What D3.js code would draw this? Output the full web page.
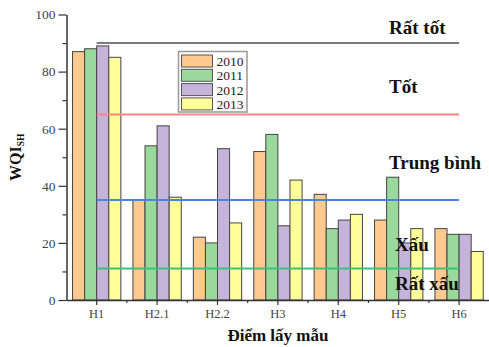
<!DOCTYPE html>
<html>
<head>
<meta charset="utf-8">
<script src="https://cdn.jsdelivr.net/npm/d3@7"></script>
<style>
  html, body { margin: 0; padding: 0; background: #fff; }
  svg { display: block; font-family: "Liberation Serif", "Times New Roman", serif; }
</style>
</head>
<body>
<svg id="chart" width="489" height="347"></svg>
<script>
// Sampling sites and yearly WQI_SH values
const sites = ["H1", "H2.1", "H2.2", "H3", "H4", "H5", "H6"];
const years = ["2010", "2011", "2012", "2013"];
const wqi2010 = [87, 35, 22, 52, 37, 28, 25];
const wqi2011 = [88, 54, 20, 58, 25, 43, 23];
const wqi2012 = [89, 61, 53, 26, 28, 20, 23];
const wqi2013 = [85, 36, 27, 42, 30, 25, 17];
const yearColors = ["#FFC98F", "#9AD89B", "#C5B3DA", "#FFFF9A"];

// Quality class thresholds and class names
const thresholds = [90, 65, 35, 11];
const thresholdColors = ["#7a7a7a", "#ff8585", "#4a82e0", "#3fbf7a"];
const classNames = ["Rất tốt", "Tốt", "Trung bình", "Xấu", "Rất xấu"];
const classLabelLevels = [93, 72.5, 46, 17, 3.5];

const yTicks = [0, 20, 40, 60, 80, 100];
const yMinorTicks = [10, 30, 50, 70, 90];

const series = [wqi2010, wqi2011, wqi2012, wqi2013];

const svg = d3.select("#chart");

const x = d3.scaleBand().domain(sites).range([66.5, 489.3]).paddingInner(0.2).paddingOuter(0.1);
const xs = d3.scaleBand().domain(years).range([0, x.bandwidth()]);
const y = d3.scaleLinear().domain([0, 100]).range([300, 14.5]);

// Bars
const groups = svg.append("g").selectAll("g")
  .data(sites)
  .join("g")
  .attr("transform", d => `translate(${x(d)},0)`);

groups.selectAll("rect")
  .data((site, i) => years.map((yr, k) => ({ yr, k, v: series[k][i] })))
  .join("rect")
  .attr("x", d => xs(d.yr))
  .attr("y", d => y(d.v))
  .attr("width", xs.bandwidth())
  .attr("height", d => y(0) - y(d.v))
  .attr("fill", d => yearColors[d.k])
  .attr("stroke", "#444")
  .attr("stroke-width", 1);

// Threshold lines from the first to the last site
const lineX0 = x(sites[0]) + x.bandwidth() / 2;
const lineX1 = x(sites[sites.length - 1]) + x.bandwidth() / 2;
svg.append("g").selectAll("line")
  .data(thresholds)
  .join("line")
  .attr("x1", lineX0)
  .attr("x2", lineX1)
  .attr("y1", d => y(d))
  .attr("y2", d => y(d))
  .attr("stroke", (d, i) => thresholdColors[i])
  .attr("stroke-width", 2);

// Class names
svg.append("g").selectAll("text")
  .data(classNames)
  .join("text")
  .attr("x", (d, i) => i < 3 ? 389 : 395)
  .attr("y", (d, i) => y(classLabelLevels[i]))
  .attr("font-size", 19)
  .attr("font-weight", "bold")
  .attr("fill", "#111")
  .text(d => d);

// Y axis
const yAxis = svg.append("g")
  .attr("transform", `translate(${x.range()[0]},0)`)
  .call(d3.axisLeft(y).tickValues(yTicks).tickSize(8).tickSizeOuter(0).tickPadding(3));
yAxis.select(".domain").attr("stroke", "#333").attr("stroke-width", 1.5);
yAxis.selectAll(".tick line").attr("stroke", "#333").attr("stroke-width", 1.2);
yAxis.selectAll(".tick text")
  .attr("font-family", "Liberation Serif, serif")
  .attr("font-size", 13.5).attr("fill", "#444");

svg.append("g")
  .attr("transform", `translate(${x.range()[0]},0)`)
  .call(d3.axisLeft(y).tickValues(yMinorTicks).tickSize(4).tickFormat(""))
  .call(g => g.select(".domain").remove())
  .selectAll(".tick line").attr("stroke", "#333").attr("stroke-width", 1.2);

// X axis
const xAxis = svg.append("g")
  .attr("transform", `translate(0,${y(0)})`)
  .call(d3.axisBottom(x).tickSize(5).tickSizeOuter(0).tickPadding(4));
xAxis.select(".domain").attr("stroke", "#333").attr("stroke-width", 1.5);
xAxis.selectAll(".tick line").attr("stroke", "#333").attr("stroke-width", 1.2);
xAxis.selectAll(".tick text")
  .attr("font-family", "Liberation Serif, serif")
  .attr("font-size", 12.5).attr("fill", "#444");

// Minor ticks between sites
svg.append("g").selectAll("line")
  .data(sites.slice(1))
  .join("line")
  .attr("x1", d => x(d) - x.step() * x.paddingInner() / 2)
  .attr("x2", d => x(d) - x.step() * x.paddingInner() / 2)
  .attr("y1", y(0))
  .attr("y2", y(0) + 3)
  .attr("stroke", "#333")
  .attr("stroke-width", 1.2);

// Axis titles
const yTitle = svg.append("text")
  .attr("transform", `translate(21,${(y(0) + y(100)) / 2}) rotate(-90)`)
  .attr("text-anchor", "middle")
  .attr("font-weight", "bold")
  .attr("font-size", 16)
  .attr("fill", "#111");
yTitle.append("tspan").text("WQI");
yTitle.append("tspan").attr("font-size", 9.5).attr("dy", 3).text("SH");

svg.append("text")
  .attr("x", (x.range()[0] + x.range()[1]) / 2)
  .attr("y", 341)
  .attr("text-anchor", "middle")
  .attr("font-weight", "bold")
  .attr("font-size", 17)
  .attr("fill", "#111")
  .text("Điểm lấy mẫu");

// Legend
const legend = svg.append("g").attr("transform", "translate(178.5,51.5)");
legend.append("rect")
  .attr("width", 68.5).attr("height", 60.5)
  .attr("fill", "#fff").attr("stroke", "#999").attr("stroke-width", 1.5);
const rows = legend.selectAll("g.row")
  .data(years)
  .join("g")
  .attr("class", "row")
  .attr("transform", (d, i) => `translate(3,${3.5 + i * 14.3})`);
rows.append("rect")
  .attr("width", 31).attr("height", 12)
  .attr("fill", (d, i) => yearColors[i])
  .attr("stroke", "#555").attr("stroke-width", 1);
rows.append("text")
  .attr("x", 35).attr("y", 11)
  .attr("font-size", 13.5)
  .attr("fill", "#222")
  .text(d => d);
</script>
</body>
</html>
